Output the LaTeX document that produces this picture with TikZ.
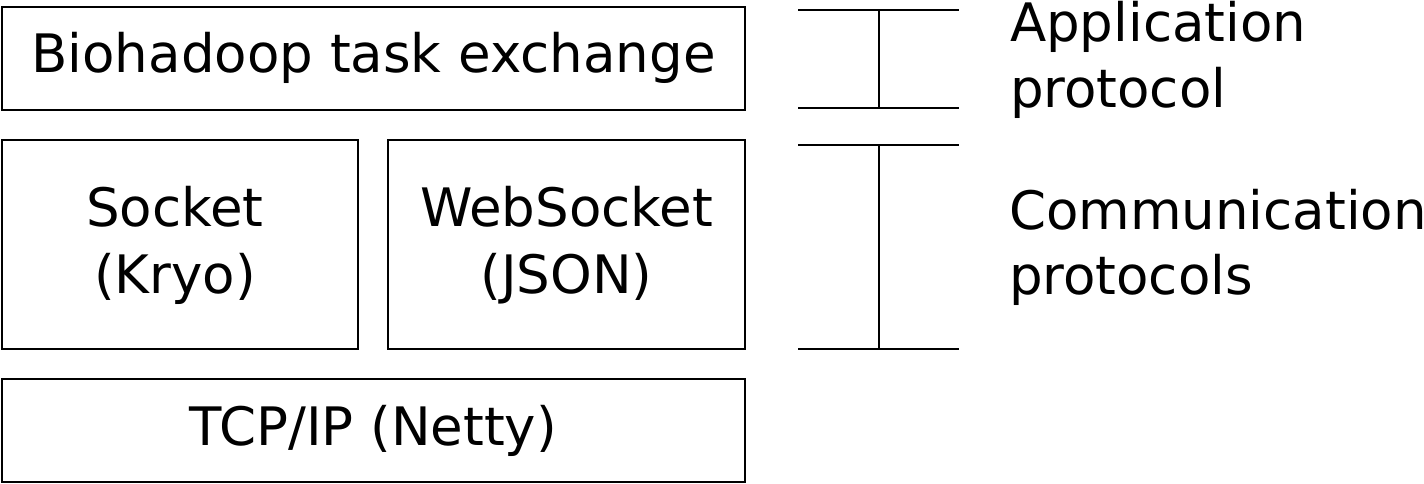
\documentclass[tikz,border=0pt]{standalone}
\usepackage{fontspec}
\setmainfont{DejaVu Sans}
\begin{document}
\begin{tikzpicture}[x=1pt,y=-1pt,
  box/.style={draw=black, line width=2pt, rectangle, inner sep=0pt, outer sep=0pt, anchor=north west},
  lbl/.style={inner sep=0pt, outer sep=0pt, font=\fontsize{53}{64}\selectfont},
  brk/.style={line width=2pt}]
\useasboundingbox (0,0) rectangle (1424,484);
% boxes
\node[box, minimum width=743pt, minimum height=103pt] (app) at (2,7) {};
\node[box, minimum width=356pt, minimum height=209pt] (sock) at (2,140) {};
\node[box, minimum width=357pt, minimum height=209pt] (ws) at (388,140) {};
\node[box, minimum width=743pt, minimum height=103pt] (tcp) at (2,379) {};
% box texts
\node[lbl, anchor=base] (appt) at (373.5,73) {Biohadoop task exchange};
\node[lbl, anchor=base] (sockt1) at (175,226) {Socket};
\node[lbl, anchor=base] (sockt2) at (175,293) {(Kryo)};
\node[lbl, anchor=base] (wst1) at (566.5,226) {WebSocket};
\node[lbl, anchor=base] (wst2) at (566.5,293) {(JSON)};
\node[lbl, anchor=base] (tcpt) at (373.5,445) {TCP/IP (Netty)};
% brackets
\coordinate (a1) at (798,10);
\coordinate (a2) at (959,10);
\coordinate (a3) at (798,108);
\coordinate (a4) at (959,108);
\coordinate (am1) at (879,10);
\coordinate (am2) at (879,108);
\coordinate (c1) at (798,145);
\coordinate (c2) at (959,145);
\coordinate (c3) at (798,349);
\coordinate (c4) at (959,349);
\coordinate (cm1) at (879,145);
\coordinate (cm2) at (879,349);
\draw[brk] (a1) -- (a2);
\draw[brk] (a3) -- (a4);
\draw[brk] (am1) -- (am2);
\draw[brk] (c1) -- (c2);
\draw[brk] (c3) -- (c4);
\draw[brk] (cm1) -- (cm2);
% side labels
\node[lbl, anchor=base west] (l1) at (1010,42) {Application};
\node[lbl, anchor=base west] (l2) at (1010,108) {protocol};
\node[lbl, anchor=base west] (l3) at (1009,229) {Communication};
\node[lbl, anchor=base west] (l4) at (1009,294) {protocols};
\end{tikzpicture}
\end{document}
